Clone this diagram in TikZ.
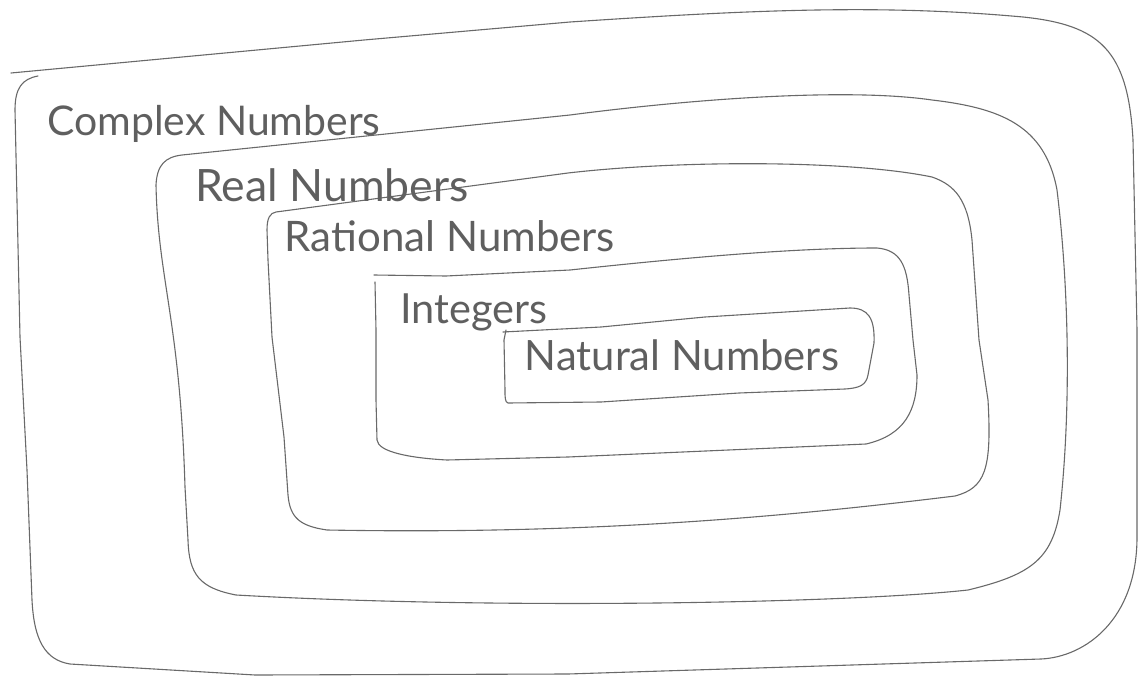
\documentclass[tikz,border=0pt]{standalone}
\usepackage{fontspec}
\setmainfont{Lato}
\definecolor{inkgray}{RGB}{105,105,105}
\definecolor{textgray}{RGB}{95,95,95}
\begin{document}
\begin{tikzpicture}[x=1pt,y=-1pt,
  pen/.style={draw=inkgray, line width=1.1pt, line cap=round, line join=round},
  lbl/.style={inner sep=0pt, text=textgray}]
\useasboundingbox (0,0) rectangle (1138,677);

% Complex numbers (outermost set)
\draw[pen] (11,73) -- (364,40) -- (570,22)
  .. controls (750,10) and (880,4) .. (1023,17)
  .. controls (1100,25) and (1128,50) .. (1133,140)
  -- (1137,330) -- (1137,537)
  .. controls (1137,620) and (1085,657) .. (1041,659)
  -- (568,674) -- (255,675) -- (70,664)
  .. controls (45,660) and (34,640) .. (32,600)
  -- (27,470) -- (20,337) -- (15,110)
  .. controls (15,88) and (22,79) .. (38,76);

% Real numbers
\draw[pen] (182,155) -- (570,115)
  .. controls (700,98) and (850,88) .. (932,100)
  .. controls (1000,108) and (1045,125) .. (1057,190)
  .. controls (1068,280) and (1072,400) .. (1060,510)
  .. controls (1052,560) and (1030,575) .. (968,590)
  .. controls (850,603) and (500,610) .. (236,595)
  .. controls (200,588) and (189,575) .. (188,540)
  -- (185,487)
  .. controls (180,320) and (158,280) .. (156,185)
  .. controls (157,165) and (165,157) .. (182,155) -- cycle;

% Rational numbers
\draw[pen] (276,212) -- (568,173)
  .. controls (680,160) and (850,160) .. (932,177)
  .. controls (955,185) and (968,200) .. (972,240)
  -- (979,340) -- (988,400)
  .. controls (992,470) and (985,488) .. (955,496)
  .. controls (800,515) and (600,535) .. (327,530)
  .. controls (300,526) and (290,518) .. (288,495)
  -- (284,437) -- (272,337) -- (268,260) -- (267,230)
  .. controls (267,218) and (270,213) .. (276,212) -- cycle;

% Integers
\draw[pen] (374,275) -- (446,276) -- (570,270)
  .. controls (700,256) and (800,248) .. (877,248)
  .. controls (900,250) and (907,265) .. (909,295)
  -- (913,340) -- (917,375)
  .. controls (917,410) and (905,435) .. (866,444)
  -- (568,457) -- (447,460)
  .. controls (410,458) and (378,452) .. (377,440)
  -- (376,400) -- (376,330) -- (375,282);

% Natural numbers
\draw[pen] (503,332) -- (601,327) -- (705,317) -- (850,308)
  .. controls (868,308) and (875,318) .. (874,343)
  -- (868,375)
  .. controls (866,385) and (860,388) .. (845,389)
  -- (739,393) -- (601,402) -- (508,403)
  .. controls (505,402) and (505,398) .. (505,390)
  -- (504,340) -- (506,330);

% Set labels
\node[lbl] (complex)  at (214,124) {\resizebox{333pt}{!}{Complex Numbers}};
\node[lbl] (real)     at (332,185) {\resizebox{273pt}{!}{Real Numbers}};
\node[lbl] (rational) at (450,236) {\resizebox{330pt}{!}{Rational Numbers}};
\node[lbl] (integers) at (474,312) {\resizebox{147pt}{!}{Integers}};
\node[lbl] (natural)  at (682,355) {\resizebox{314pt}{!}{Natural Numbers}};
\end{tikzpicture}
\end{document}
